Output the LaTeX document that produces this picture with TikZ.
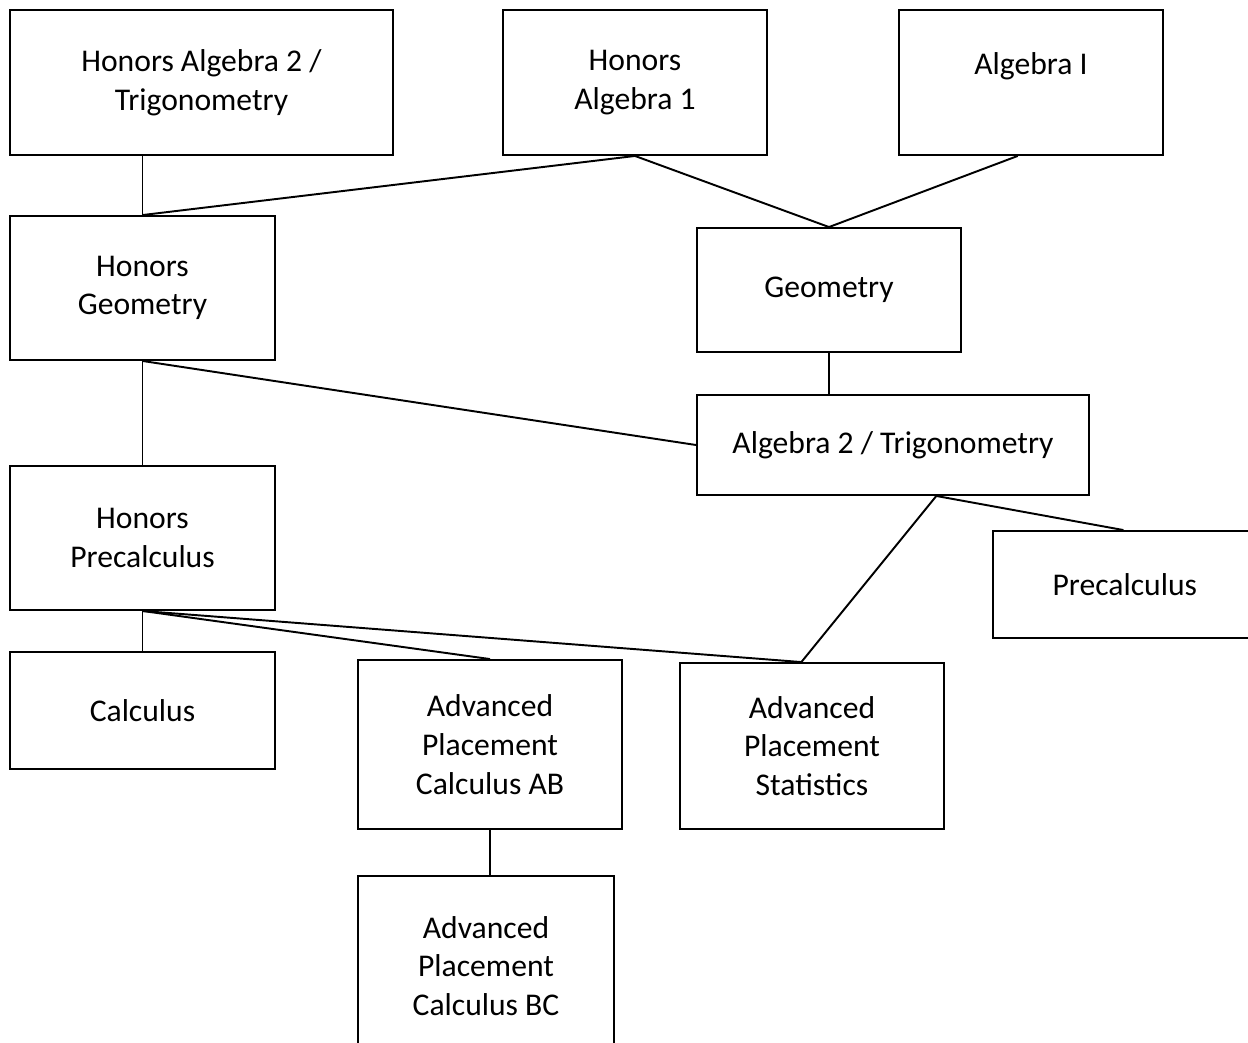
\documentclass[tikz,border=0pt]{standalone}
\usepackage{fontspec}
\setmainfont{Carlito}
\usetikzlibrary{calc}

\begin{document}
\begin{tikzpicture}[x=0.02cm,y=-0.02cm]

%
% Styles
%
\tikzstyle{course} = [rectangle,draw=black,line width=1.1pt,align=center,inner sep=0pt,font=\fontsize{18}{22}\selectfont]
\tikzstyle{link} = [line width=1.1pt]

\useasboundingbox (0,0) rectangle (1248,1042);

\node[course,minimum width=7.66cm,minimum height=2.9cm]  (ha2t) at (201.5, 82.5) {Honors Algebra 2 /\\Trigonometry};
\node[course,minimum width=5.28cm,minimum height=2.9cm]  (ha1)  at (635, 82.5)   {Honors\\Algebra 1};
\node[course,minimum width=5.28cm,minimum height=2.9cm]  (alg1) at (1031, 82.5)  {Algebra I\\~};
\node[course,minimum width=5.3cm,minimum height=2.88cm]  (hgeo) at (142.5, 288)  {Honors\\Geometry};
\node[course,minimum width=5.28cm,minimum height=2.48cm] (geo)  at (829, 290)    {Geometry};
\node[course,minimum width=7.84cm,minimum height=2cm]    (a2t)  at (893, 445)    {Algebra 2 / Trigonometry};
\node[course,minimum width=5.3cm,minimum height=2.88cm]  (hpre) at (142.5, 538)  {Honors\\Precalculus};
\node[course,minimum width=5.8cm,minimum height=2.14cm]  (pre)  at (1138, 584.5) {Precalculus\hspace*{15pt}};
\node[course,minimum width=5.3cm,minimum height=2.34cm]  (calc) at (142.5, 710.5) {Calculus};
\node[course,minimum width=5.28cm,minimum height=3.38cm] (apab) at (490, 744.5)  {Advanced\\Placement\\Calculus AB};
\node[course,minimum width=5.28cm,minimum height=3.32cm] (apst) at (812, 746)    {Advanced\\Placement\\Statistics};
\node[course,minimum width=5.12cm,minimum height=3.6cm]  (apbc) at (486, 966)    {Advanced\\Placement\\Calculus BC};

\coordinate (alg1foot) at ($(alg1.south west)!0.45!(alg1.south east)$);
\coordinate (a2tfoot)  at ($(a2t.south west)!0.61!(a2t.south east)$);
\coordinate (pretop)   at ($(pre.north west)!0.45!(pre.north east)$);
\coordinate (apsttop)  at ($(apst.north west)!0.46!(apst.north east)$);

\draw[link] (hgeo.north) -- (hgeo.north |- ha2t.south);
\draw[link] (hgeo.north) -- (ha1.south);
\draw[link] (ha1.south) -- (geo.north);
\draw[link] (alg1foot) -- (geo.north);
\draw[link] (geo.south) -- (geo.south |- a2t.north);
\draw[link] (hgeo.south) -- (a2t.west);
\draw[link] (hgeo.south) -- (hpre.north);
\draw[link] (a2tfoot) -- (pretop);
\draw[link] (a2tfoot) -- (apsttop);
\draw[link] (hpre.south) -- (calc.north);
\draw[link] (hpre.south) -- (apab.north);
\draw[link] (hpre.south) -- (apsttop);
\draw[link] (apab.south) -- (apab.south |- apbc.north);

\end{tikzpicture}
\end{document}
